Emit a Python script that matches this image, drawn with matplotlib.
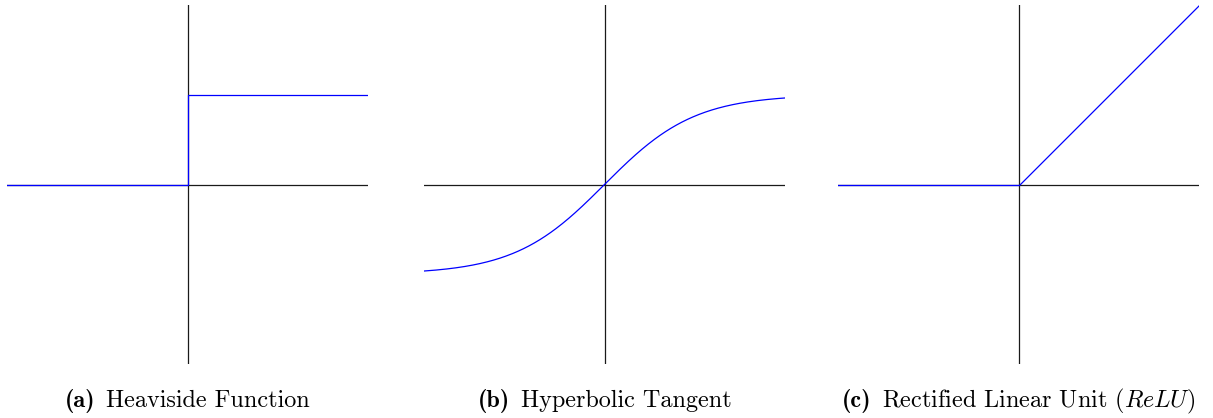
import numpy as np
import matplotlib
matplotlib.use("Agg")
import matplotlib.pyplot as plt
from matplotlib import font_manager
import os

plt.rcParams["mathtext.fontset"] = "cm"
plt.rcParams["axes.unicode_minus"] = False

# Domain and range shared by all three panels
x_min, x_max = -2.0, 2.0
y_min, y_max = -2.0, 2.0

# Sample points for the smooth curve
x_tanh = np.linspace(x_min, x_max, 400)

# Heaviside step: value left of zero, value right of zero
step_x = [x_min, 0.0, 0.0, x_max]
step_y = [0.0, 0.0, 1.0, 1.0]

# ReLU: piecewise linear through the kink at zero
relu_x = [x_min, 0.0, x_max]
relu_y = [0.0, 0.0, 2.0]

labels = ["(a)", "(b)", "(c)"]
titles = [
    "Heaviside Function",
    "Hyperbolic Tangent",
    r"Rectified Linear Unit $(ReLU)$",
]

W, H = 1213, 418
fig = plt.figure(figsize=(W / 100, H / 100), dpi=100)

lefts = [7, 424, 838]
ax_w, top, bottom = 361, 5, 364

curve_color = "#0000ff"
axis_color = "#1a1a1a"
lw = 0.9

axes = []
for left in lefts:
    ax = fig.add_axes([left / W, (H - bottom) / H, ax_w / W, (bottom - top) / H])
    ax.set_xlim(x_min, x_max)
    ax.set_ylim(y_min, y_max)
    ax.axis("off")
    ax.plot([x_min, x_max], [0, 0], color=axis_color, lw=lw, zorder=1)
    ax.plot([0, 0], [y_min, y_max], color=axis_color, lw=lw, zorder=1)
    axes.append(ax)

axes[0].plot(step_x, step_y, color=curve_color, lw=lw, zorder=2)
axes[1].plot(x_tanh, np.tanh(x_tanh), color=curve_color, lw=lw, zorder=2)
axes[2].plot(relu_x, relu_y, color=curve_color, lw=lw, zorder=2, snap=True)

# Computer Modern fonts bundled with matplotlib
ttf_dir = os.path.join(matplotlib.get_data_path(), "fonts", "ttf")
bold_fp = font_manager.FontProperties(fname=os.path.join(ttf_dir, "cmb10.ttf"))
reg_fp = font_manager.FontProperties(fname=os.path.join(ttf_dir, "cmr10.ttf"))

# Captions: bold label followed by the regular title, centred under the origin
baseline_y = (H - 407) / H
fs = 17.4
bold_fp.set_size(fs)
reg_fp.set_size(fs)
pairs = []
for ax, lab, tit in zip(axes, labels, titles):
    t_lab = fig.text(0, baseline_y, lab, fontproperties=bold_fp,
                     ha="left", va="baseline")
    t_tit = fig.text(0, baseline_y, tit, fontproperties=reg_fp,
                     ha="left", va="baseline")
    pairs.append((ax, t_lab, t_tit))

fig.canvas.draw()
renderer = fig.canvas.get_renderer()
gap = 11
for ax, t_lab, t_tit in pairs:
    w_lab = t_lab.get_window_extent(renderer).width
    w_tit = t_tit.get_window_extent(renderer).width
    total = w_lab + gap + w_tit
    cx = ax.transData.transform((0, 0))[0]
    x0 = cx - total / 2
    t_lab.set_x(x0 / W)
    t_tit.set_x((x0 + w_lab + gap) / W)

fig.savefig("out.png", dpi=100)
